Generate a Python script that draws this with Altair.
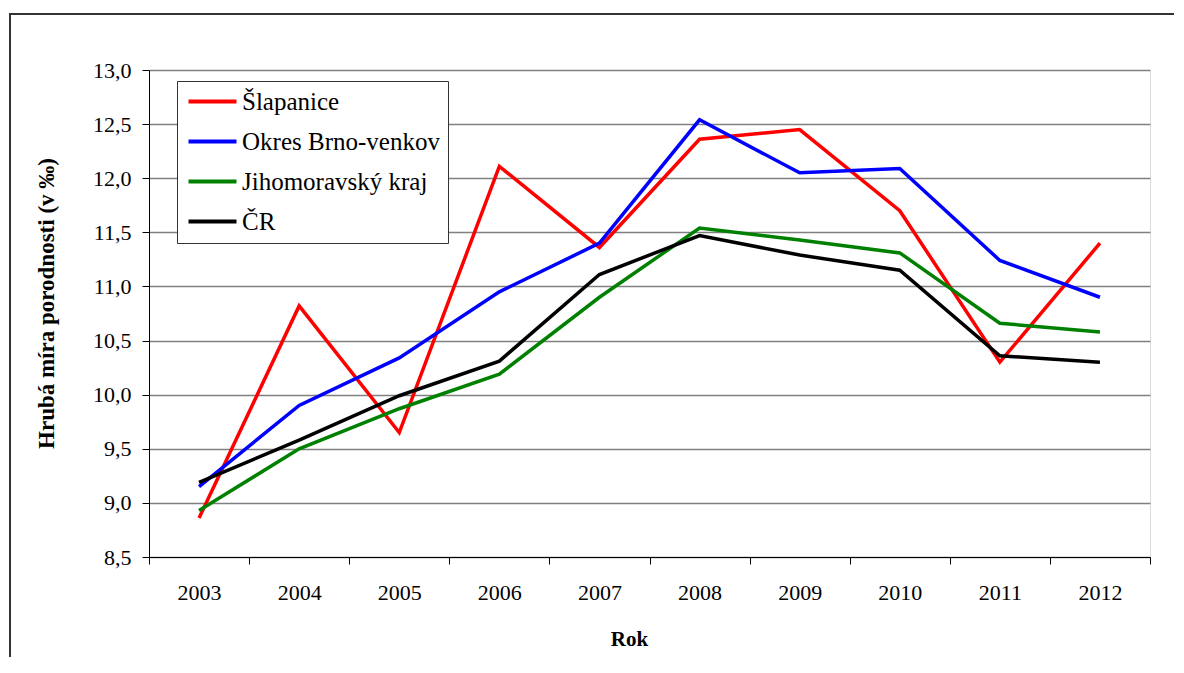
import altair as alt
import pandas as pd

years = ["2003", "2004", "2005", "2006", "2007", "2008", "2009", "2010", "2011", "2012"]
series_names = ["Šlapanice", "Okres Brno-venkov", "Jihomoravský kraj", "ČR"]
slapanice = [8.86, 10.82, 9.65, 12.11, 11.36, 12.36, 12.45, 11.70, 10.30, 11.40]
brno_venkov = [9.15, 9.90, 10.34, 10.95, 11.40, 12.54, 12.05, 12.09, 11.24, 10.90]
jihomoravsky = [8.93, 9.50, 9.87, 10.19, 10.90, 11.54, 11.43, 11.31, 10.66, 10.58]
cr = [9.19, 9.58, 9.99, 10.31, 11.11, 11.47, 11.29, 11.15, 10.36, 10.30]
colors = ["#FF0000", "#0000FF", "#008000", "#000000"]
y_ticks = [8.5, 9.0, 9.5, 10.0, 10.5, 11.0, 11.5, 12.0, 12.5, 13.0]

rows = []
for name, vals in zip(series_names, [slapanice, brno_venkov, jihomoravsky, cr]):
    for yr, v in zip(years, vals):
        rows.append({"Rok": yr, "Serie": name, "Hodnota": v, "order": series_names.index(name)})
df = pd.DataFrame(rows)

FONT = "Liberation Serif"

one = pd.DataFrame({"a": [0]})
frame_top = alt.Chart(one).mark_rule(stroke="#333333", strokeWidth=2, clip=False).encode(
    x=alt.value(-140), x2=alt.value(1025), y=alt.value(-56)
)
frame_left = alt.Chart(one).mark_rule(stroke="#333333", strokeWidth=2, clip=False).encode(
    x=alt.value(-139), y=alt.value(-57), y2=alt.value(600)
)

lines = alt.Chart(df).mark_line(strokeWidth=3.5, clip=False).encode(
    x=alt.X("Rok:N", sort=years,
            scale=alt.Scale(paddingInner=0, paddingOuter=0),
            axis=alt.Axis(title="Rok", labelAngle=0, tickBand="extent",
                          tickSize=7, tickColor="#000000", domainColor="#000000",
                          labelFont=FONT, labelFontSize=22, labelColor="#000000",
                          labelPadding=18, titleFont=FONT, titleFontSize=21,
                          titleFontWeight="bold", titleColor="#000000",
                          titlePadding=25, titleX=480, grid=False)),
    y=alt.Y("Hodnota:Q",
            scale=alt.Scale(domain=[8.5, 13.0], nice=False, zero=False),
            axis=alt.Axis(title="Hrubá míra porodnosti (v ‰)", values=y_ticks,
                          labelExpr="replace(format(datum.value, '.1f'), '.', ',')",
                          tickSize=7, tickColor="#000000", domainColor="#000000",
                          gridColor="#808080", gridWidth=1.3,
                          labelFont=FONT, labelFontSize=22, labelColor="#000000",
                          labelPadding=11, titleFont=FONT, titleFontSize=23,
                          titleFontWeight="bold", titleColor="#000000",
                          titleAngle=-90, titleAnchor="middle", titleAlign="center",
                          titleBaseline="middle", titleX=-103, titleY=233)),
    color=alt.Color("Serie:N", sort=series_names,
                    scale=alt.Scale(domain=series_names, range=colors),
                    legend=alt.Legend(title=None, orient="none", legendX=28, legendY=11,
                                      symbolType="M-0.9,0L3.9,0", symbolSize=400,
                                      symbolStrokeWidth=4, labelFont=FONT,
                                      labelFontSize=25, labelColor="#000000",
                                      labelLimit=500,
                                      fillColor="#FFFFFF", strokeColor="#333333",
                                      padding=8, rowPadding=14, labelOffset=32)),
    order=alt.Order("order:Q"),
    detail="Serie:N",
)

chart = alt.layer(frame_top, frame_left, lines).properties(
    width=1001, height=487,
    autosize=alt.AutoSizeParams(type="none"),
    padding={"left": 141, "top": 62, "right": 26, "bottom": 100},
).configure_view(stroke="#808080", strokeWidth=1.5).configure(background="#FFFFFF")

chart.save("out.html", embed_options={"renderer": "svg", "actions": False})
